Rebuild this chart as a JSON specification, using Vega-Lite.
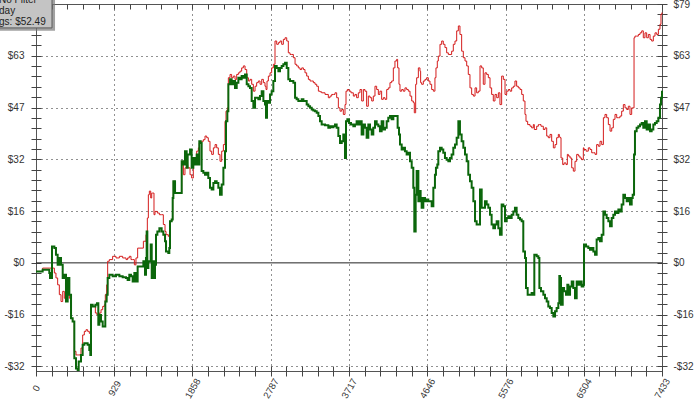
{
  "$schema": "https://vega.github.io/schema/vega-lite/v6.json",
  "width": 626,
  "height": 367,
  "autosize": {"type": "none"},
  "padding": {"left": 36, "top": 4, "right": 38, "bottom": 36},
  "background": "white",
  "config": {
    "view": {"stroke": "#555555", "strokeWidth": 1},
    "axis": {
      "domain": false,
      "title": null,
      "labelFont": "Liberation Sans",
      "labelFontSize": 10,
      "labelColor": "#333333",
      "tickColor": "#444444",
      "tickWidth": 1,
      "labelOverlap": false,
      "labelFlush": false,
      "labelBound": false
    }
  },
  "data": {"values": [
    {"t":0,"filter":-2.6,"noFilter":-2.6},{"t":79,"filter":-1.6,"noFilter":-2.1},{"t":158,"filter":-1.6,"noFilter":-3.1},{"t":166,"filter":-1.6,"noFilter":-4.6},{"t":190,"filter":-1.6,"noFilter":5.0},{"t":218,"filter":-3.1,"noFilter":4.5},{"t":237,"filter":-4.6,"noFilter":2.5},{"t":257,"filter":-6.7,"noFilter":-0.6},{"t":277,"filter":-9.7,"noFilter":1.5},{"t":297,"filter":-11.8,"noFilter":-0.6},{"t":317,"filter":-8.7,"noFilter":-4.6},{"t":336,"filter":-10.8,"noFilter":-3.6},{"t":356,"filter":-9.7,"noFilter":-11.8},{"t":376,"filter":-8.7,"noFilter":-4.6},{"t":396,"filter":-10.8,"noFilter":-9.7},{"t":416,"filter":-16.9,"noFilter":-16.9},{"t":435,"filter":-17.9,"noFilter":-17.9},{"t":455,"filter":-27.0,"noFilter":-29.1},{"t":475,"filter":-28.1,"noFilter":-32.2},{"t":495,"filter":-28.1,"noFilter":-32.7},{"t":507,"filter":-28.1,"noFilter":-30.1},{"t":534,"filter":-26.0,"noFilter":-28.1},{"t":554,"filter":-22.0,"noFilter":-25.0},{"t":574,"filter":-20.9,"noFilter":-24.5},{"t":594,"filter":-20.4,"noFilter":-24.5},{"t":613,"filter":-20.9,"noFilter":-25.0},{"t":633,"filter":-21.5,"noFilter":-26.6},{"t":645,"filter":-21.5,"noFilter":-28.1},{"t":653,"filter":-12.8,"noFilter":-12.8},{"t":673,"filter":-13.3,"noFilter":-13.3},{"t":705,"filter":-15.3,"noFilter":-12.8},{"t":724,"filter":-15.9,"noFilter":-12.3},{"t":740,"filter":-15.9,"noFilter":-18.9},{"t":752,"filter":-15.3,"noFilter":-15.9},{"t":772,"filter":-14.3,"noFilter":-17.9},{"t":792,"filter":-13.3,"noFilter":-19.4},{"t":811,"filter":-12.8,"noFilter":-19.4},{"t":823,"filter":-9.7,"noFilter":-11.8},{"t":839,"filter":-6.7,"noFilter":-9.7},{"t":851,"filter":0.5,"noFilter":-4.6},{"t":871,"filter":1.0,"noFilter":-3.6},{"t":910,"filter":2.0,"noFilter":-4.1},{"t":950,"filter":1.5,"noFilter":-3.6},{"t":990,"filter":2.0,"noFilter":-4.1},{"t":1029,"filter":1.5,"noFilter":-4.4},{"t":1069,"filter":1.0,"noFilter":-4.6},{"t":1088,"filter":1.5,"noFilter":-5.2},{"t":1108,"filter":2.0,"noFilter":-3.6},{"t":1128,"filter":1.0,"noFilter":-4.1},{"t":1148,"filter":1.0,"noFilter":-5.7},{"t":1168,"filter":-0.6,"noFilter":-3.1},{"t":1187,"filter":1.5,"noFilter":-5.7},{"t":1207,"filter":4.5,"noFilter":-1.1},
    {"t":1235,"filter":4.5,"noFilter":-1.1},{"t":1275,"filter":6.6,"noFilter":0.5},{"t":1294,"filter":6.6,"noFilter":-3.6},{"t":1306,"filter":8.6,"noFilter":1.5},{"t":1314,"filter":9.6,"noFilter":9.6},{"t":1322,"filter":13.7,"noFilter":-1.6},{"t":1334,"filter":20.8,"noFilter":0.5},{"t":1346,"filter":21.9,"noFilter":0.5},{"t":1362,"filter":19.8,"noFilter":5.6},{"t":1374,"filter":21.3,"noFilter":-4.6},{"t":1385,"filter":21.3,"noFilter":0.5},{"t":1401,"filter":14.7,"noFilter":-4.6},{"t":1413,"filter":15.7,"noFilter":-0.6},{"t":1425,"filter":15.7,"noFilter":8.6},{"t":1441,"filter":15.2,"noFilter":9.6},{"t":1465,"filter":14.7,"noFilter":10.6},{"t":1492,"filter":14.7,"noFilter":9.6},{"t":1512,"filter":11.7,"noFilter":8.6},{"t":1532,"filter":9.6,"noFilter":6.6},{"t":1544,"filter":8.6,"noFilter":3.5},{"t":1571,"filter":8.1,"noFilter":3.0},{"t":1583,"filter":8.6,"noFilter":4.5},{"t":1591,"filter":12.7,"noFilter":12.7},{"t":1611,"filter":13.2,"noFilter":13.2},{"t":1623,"filter":19.8,"noFilter":19.8},{"t":1631,"filter":24.9,"noFilter":24.9},{"t":1651,"filter":21.3,"noFilter":21.3},{"t":1690,"filter":21.3,"noFilter":21.3},{"t":1710,"filter":21.3,"noFilter":21.3},{"t":1730,"filter":31.0,"noFilter":31.0},{"t":1750,"filter":26.9,"noFilter":30.0},{"t":1769,"filter":29.0,"noFilter":34.1},{"t":1789,"filter":30.0,"noFilter":29.0},{"t":1801,"filter":29.0,"noFilter":33.1},{"t":1829,"filter":26.9,"noFilter":34.6},{"t":1848,"filter":25.9,"noFilter":29.0},{"t":1868,"filter":30.0,"noFilter":32.0},{"t":1888,"filter":32.0,"noFilter":30.0},{"t":1908,"filter":34.1,"noFilter":33.1},{"t":1928,"filter":35.1,"noFilter":30.0},{"t":1939,"filter":36.6,"noFilter":37.1},{"t":1955,"filter":37.1,"noFilter":36.6},{"t":1967,"filter":37.1,"noFilter":28.0},{"t":1987,"filter":37.6,"noFilter":27.5},{"t":2007,"filter":38.7,"noFilter":26.9},{"t":2027,"filter":38.2,"noFilter":27.5},{"t":2046,"filter":37.1,"noFilter":25.9},{"t":2066,"filter":34.1,"noFilter":22.9},{"t":2086,"filter":33.1,"noFilter":22.4},{"t":2106,"filter":35.1,"noFilter":24.4},{"t":2126,"filter":36.1,"noFilter":24.9},{"t":2145,"filter":35.1,"noFilter":24.4},{"t":2165,"filter":33.1,"noFilter":22.9},{"t":2185,"filter":31.0,"noFilter":20.8},{"t":2205,"filter":34.1,"noFilter":23.9},{"t":2225,"filter":36.1,"noFilter":29.0},{"t":2244,"filter":43.2,"noFilter":34.1},{"t":2256,"filter":46.3,"noFilter":43.2},{"t":2272,"filter":47.3,"noFilter":46.3},{"t":2284,"filter":56.5,"noFilter":54.5},{"t":2304,"filter":57.5,"noFilter":56.0},{"t":2323,"filter":56.5,"noFilter":54.5},{"t":2343,"filter":57.0,"noFilter":55.5},{"t":2363,"filter":56.0,"noFilter":53.4},{"t":2383,"filter":57.5,"noFilter":55.0},{"t":2403,"filter":58.0,"noFilter":56.5},{"t":2422,"filter":58.5,"noFilter":56.0},{"t":2442,"filter":59.5,"noFilter":57.0},{"t":2462,"filter":60.1,"noFilter":56.5},
    {"t":2482,"filter":59.0,"noFilter":57.5},{"t":2502,"filter":56.5,"noFilter":54.5},{"t":2522,"filter":55.5,"noFilter":53.9},{"t":2541,"filter":56.0,"noFilter":53.4},{"t":2561,"filter":54.5,"noFilter":49.4},{"t":2581,"filter":52.4,"noFilter":47.3},{"t":2601,"filter":53.9,"noFilter":50.4},{"t":2620,"filter":55.0,"noFilter":50.4},{"t":2640,"filter":55.5,"noFilter":49.9},{"t":2660,"filter":54.5,"noFilter":50.9},{"t":2680,"filter":56.0,"noFilter":52.4},{"t":2700,"filter":55.0,"noFilter":49.4},{"t":2719,"filter":53.9,"noFilter":48.3},{"t":2731,"filter":52.9,"noFilter":44.3},{"t":2743,"filter":55.5,"noFilter":49.4},{"t":2759,"filter":57.0,"noFilter":48.9},{"t":2779,"filter":58.0,"noFilter":51.4},{"t":2798,"filter":59.5,"noFilter":52.4},{"t":2818,"filter":60.6,"noFilter":55.5},{"t":2838,"filter":67.7,"noFilter":60.1},{"t":2858,"filter":66.7,"noFilter":59.5},{"t":2878,"filter":67.2,"noFilter":58.5},{"t":2897,"filter":67.7,"noFilter":59.5},{"t":2917,"filter":66.7,"noFilter":60.1},{"t":2937,"filter":68.2,"noFilter":60.6},{"t":2957,"filter":68.7,"noFilter":61.1},{"t":2977,"filter":67.7,"noFilter":59.5},{"t":2996,"filter":64.1,"noFilter":56.0},{"t":3016,"filter":63.6,"noFilter":55.5},{"t":3036,"filter":63.6,"noFilter":55.5},{"t":3056,"filter":62.6,"noFilter":55.0},{"t":3076,"filter":60.6,"noFilter":50.4},{"t":3095,"filter":60.1,"noFilter":49.9},{"t":3115,"filter":59.5,"noFilter":49.4},{"t":3135,"filter":59.0,"noFilter":49.4},{"t":3155,"filter":59.5,"noFilter":49.9},{"t":3175,"filter":59.0,"noFilter":49.4},{"t":3194,"filter":58.0,"noFilter":49.4},{"t":3214,"filter":57.0,"noFilter":48.3},{"t":3234,"filter":56.0,"noFilter":47.8},{"t":3254,"filter":55.5,"noFilter":47.3},{"t":3274,"filter":55.5,"noFilter":46.8},{"t":3293,"filter":55.0,"noFilter":46.5},{"t":3313,"filter":54.5,"noFilter":46.3},{"t":3333,"filter":53.9,"noFilter":45.8},{"t":3353,"filter":52.4,"noFilter":44.8},{"t":3372,"filter":52.2,"noFilter":43.2},{"t":3392,"filter":51.9,"noFilter":42.2},{"t":3432,"filter":51.4,"noFilter":42.0},{"t":3471,"filter":50.4,"noFilter":41.2},{"t":3491,"filter":50.9,"noFilter":41.7},{"t":3511,"filter":51.4,"noFilter":41.4},{"t":3531,"filter":51.4,"noFilter":41.7},{"t":3550,"filter":51.9,"noFilter":42.2},{"t":3570,"filter":50.4,"noFilter":41.2},{"t":3590,"filter":47.3,"noFilter":38.7},{"t":3610,"filter":46.3,"noFilter":36.6},{"t":3630,"filter":46.8,"noFilter":37.1},{"t":3649,"filter":45.3,"noFilter":39.2},{"t":3669,"filter":48.3,"noFilter":32.0},{"t":3681,"filter":52.4,"noFilter":43.2},{"t":3697,"filter":52.9,"noFilter":43.8},{"t":3717,"filter":52.4,"noFilter":42.7},
    {"t":3740,"filter":51.9,"noFilter":42.2},{"t":3768,"filter":50.9,"noFilter":41.7},{"t":3787,"filter":51.4,"noFilter":42.2},{"t":3807,"filter":50.4,"noFilter":43.2},{"t":3827,"filter":51.9,"noFilter":42.2},{"t":3847,"filter":52.9,"noFilter":43.2},{"t":3867,"filter":49.4,"noFilter":39.2},{"t":3887,"filter":52.9,"noFilter":42.2},{"t":3906,"filter":52.4,"noFilter":41.2},{"t":3926,"filter":47.8,"noFilter":38.2},{"t":3946,"filter":50.9,"noFilter":42.2},{"t":3966,"filter":50.4,"noFilter":40.7},{"t":3986,"filter":49.4,"noFilter":39.2},{"t":4005,"filter":50.9,"noFilter":41.2},{"t":4025,"filter":53.9,"noFilter":43.2},{"t":4045,"filter":52.9,"noFilter":42.2},{"t":4065,"filter":51.4,"noFilter":41.7},{"t":4084,"filter":52.4,"noFilter":40.2},{"t":4104,"filter":49.9,"noFilter":43.2},{"t":4124,"filter":50.4,"noFilter":40.7},{"t":4144,"filter":49.9,"noFilter":41.2},{"t":4164,"filter":52.9,"noFilter":43.2},{"t":4183,"filter":53.4,"noFilter":44.3},{"t":4203,"filter":55.0,"noFilter":44.8},{"t":4223,"filter":55.5,"noFilter":43.8},{"t":4243,"filter":59.5,"noFilter":44.8},{"t":4262,"filter":61.6,"noFilter":44.8},{"t":4282,"filter":62.1,"noFilter":44.8},{"t":4294,"filter":59.5,"noFilter":41.2},{"t":4310,"filter":54.5,"noFilter":39.2},{"t":4322,"filter":52.4,"noFilter":36.1},{"t":4342,"filter":52.9,"noFilter":34.6},{"t":4361,"filter":52.4,"noFilter":35.1},{"t":4381,"filter":53.4,"noFilter":34.1},{"t":4401,"filter":52.9,"noFilter":33.1},{"t":4421,"filter":52.4,"noFilter":33.6},{"t":4441,"filter":50.9,"noFilter":31.0},{"t":4461,"filter":49.4,"noFilter":29.0},{"t":4480,"filter":48.9,"noFilter":22.9},{"t":4492,"filter":45.8,"noFilter":9.6},{"t":4508,"filter":54.5,"noFilter":20.8},{"t":4520,"filter":56.5,"noFilter":28.0},{"t":4540,"filter":59.5,"noFilter":18.8},{"t":4559,"filter":58.5,"noFilter":21.9},{"t":4567,"filter":55.0,"noFilter":19.8},{"t":4579,"filter":54.5,"noFilter":16.8},{"t":4599,"filter":55.5,"noFilter":19.8},{"t":4619,"filter":56.0,"noFilter":18.8},{"t":4638,"filter":56.5,"noFilter":19.3},{"t":4658,"filter":55.5,"noFilter":18.8},{"t":4678,"filter":54.5,"noFilter":18.8},{"t":4698,"filter":52.9,"noFilter":17.3},{"t":4718,"filter":52.4,"noFilter":22.9},{"t":4737,"filter":56.5,"noFilter":26.9},{"t":4749,"filter":59.5,"noFilter":29.0},{"t":4765,"filter":61.6,"noFilter":30.0},{"t":4777,"filter":63.1,"noFilter":34.1},{"t":4797,"filter":66.7,"noFilter":35.1},{"t":4817,"filter":67.7,"noFilter":34.6},{"t":4836,"filter":66.7,"noFilter":33.6},{"t":4856,"filter":65.7,"noFilter":32.0},{"t":4876,"filter":64.1,"noFilter":31.5},{"t":4896,"filter":63.6,"noFilter":31.0},{"t":4916,"filter":63.6,"noFilter":32.0},{"t":4935,"filter":64.6,"noFilter":33.1},{"t":4955,"filter":66.7,"noFilter":35.1},{"t":4975,"filter":67.7,"noFilter":36.1},
    {"t":4995,"filter":70.8,"noFilter":38.2},{"t":5015,"filter":72.3,"noFilter":43.2},{"t":5034,"filter":69.7,"noFilter":39.2},{"t":5054,"filter":64.6,"noFilter":37.1},{"t":5074,"filter":62.6,"noFilter":35.1},{"t":5094,"filter":61.6,"noFilter":33.1},{"t":5114,"filter":60.1,"noFilter":31.0},{"t":5133,"filter":57.5,"noFilter":26.9},{"t":5153,"filter":53.4,"noFilter":24.9},{"t":5173,"filter":51.4,"noFilter":22.9},{"t":5193,"filter":50.9,"noFilter":18.8},{"t":5213,"filter":53.4,"noFilter":12.7},{"t":5232,"filter":51.9,"noFilter":11.7},{"t":5252,"filter":52.4,"noFilter":11.7},{"t":5272,"filter":60.1,"noFilter":22.4},{"t":5292,"filter":59.5,"noFilter":16.8},{"t":5311,"filter":54.5,"noFilter":16.8},{"t":5331,"filter":58.0,"noFilter":18.8},{"t":5351,"filter":57.5,"noFilter":17.8},{"t":5371,"filter":56.5,"noFilter":16.8},{"t":5391,"filter":53.4,"noFilter":14.7},{"t":5410,"filter":51.4,"noFilter":11.7},{"t":5430,"filter":49.4,"noFilter":10.6},{"t":5450,"filter":51.4,"noFilter":11.7},{"t":5470,"filter":50.4,"noFilter":12.7},{"t":5490,"filter":51.9,"noFilter":10.6},{"t":5509,"filter":48.3,"noFilter":8.6},{"t":5529,"filter":57.0,"noFilter":17.8},{"t":5549,"filter":56.0,"noFilter":17.3},{"t":5569,"filter":51.4,"noFilter":12.7},{"t":5589,"filter":52.4,"noFilter":13.7},{"t":5608,"filter":52.9,"noFilter":14.2},{"t":5628,"filter":52.4,"noFilter":13.7},{"t":5648,"filter":53.4,"noFilter":14.7},{"t":5668,"filter":53.9,"noFilter":15.7},{"t":5687,"filter":55.5,"noFilter":16.8},{"t":5707,"filter":53.9,"noFilter":14.7},{"t":5727,"filter":53.4,"noFilter":13.7},{"t":5747,"filter":52.9,"noFilter":13.2},{"t":5767,"filter":51.4,"noFilter":12.7},{"t":5786,"filter":49.4,"noFilter":3.5},{"t":5806,"filter":45.3,"noFilter":1.5},{"t":5818,"filter":43.2,"noFilter":-7.7},{"t":5838,"filter":42.2,"noFilter":-9.7},{"t":5866,"filter":41.7,"noFilter":-9.7},{"t":5885,"filter":41.2,"noFilter":-9.2},{"t":5905,"filter":42.2,"noFilter":-9.7},{"t":5917,"filter":40.7,"noFilter":2.5},{"t":5945,"filter":41.7,"noFilter":2.0},{"t":5965,"filter":42.2,"noFilter":1.5},{"t":5977,"filter":42.2,"noFilter":-7.7},{"t":5996,"filter":41.7,"noFilter":-8.7},{"t":6024,"filter":40.7,"noFilter":-9.7},{"t":6044,"filter":41.2,"noFilter":-10.8},{"t":6064,"filter":38.7,"noFilter":-11.8},{"t":6083,"filter":38.2,"noFilter":-13.3},{"t":6103,"filter":39.2,"noFilter":-13.8},{"t":6123,"filter":37.1,"noFilter":-15.3},{"t":6143,"filter":35.1,"noFilter":-16.4},{"t":6163,"filter":36.1,"noFilter":-14.8},{"t":6182,"filter":38.2,"noFilter":-13.8},{"t":6202,"filter":39.2,"noFilter":-12.3},{"t":6214,"filter":38.5,"noFilter":-4.0},
    {"t":6222,"filter":38.2,"noFilter":-4.6},{"t":6234,"filter":32.0,"noFilter":-12.8},{"t":6254,"filter":30.0,"noFilter":-7.7},{"t":6270,"filter":30.5,"noFilter":-8.7},{"t":6293,"filter":30.0,"noFilter":-9.7},{"t":6309,"filter":33.1,"noFilter":-6.7},{"t":6321,"filter":32.6,"noFilter":-9.7},{"t":6341,"filter":32.0,"noFilter":-7.2},{"t":6361,"filter":29.0,"noFilter":-5.7},{"t":6380,"filter":28.0,"noFilter":-7.7},{"t":6400,"filter":31.0,"noFilter":-10.8},{"t":6420,"filter":33.1,"noFilter":-5.7},{"t":6440,"filter":32.6,"noFilter":-6.7},{"t":6459,"filter":32.0,"noFilter":-5.7},{"t":6479,"filter":31.5,"noFilter":-7.2},{"t":6499,"filter":35.1,"noFilter":-6.7},{"t":6507,"filter":34.6,"noFilter":5.6},{"t":6531,"filter":34.1,"noFilter":5.0},{"t":6558,"filter":35.1,"noFilter":4.5},{"t":6578,"filter":34.6,"noFilter":4.0},{"t":6598,"filter":33.6,"noFilter":4.5},{"t":6618,"filter":33.6,"noFilter":3.5},{"t":6638,"filter":33.1,"noFilter":2.5},{"t":6657,"filter":36.1,"noFilter":7.1},{"t":6677,"filter":35.6,"noFilter":7.6},{"t":6697,"filter":37.1,"noFilter":6.6},{"t":6717,"filter":36.1,"noFilter":8.6},{"t":6737,"filter":44.3,"noFilter":15.7},{"t":6756,"filter":45.3,"noFilter":14.7},{"t":6776,"filter":44.3,"noFilter":13.7},{"t":6796,"filter":42.2,"noFilter":12.7},{"t":6816,"filter":40.2,"noFilter":11.2},{"t":6836,"filter":41.2,"noFilter":13.7},{"t":6855,"filter":43.8,"noFilter":14.7},{"t":6875,"filter":45.3,"noFilter":15.7},{"t":6895,"filter":44.3,"noFilter":15.2},{"t":6915,"filter":44.3,"noFilter":16.3},{"t":6934,"filter":44.8,"noFilter":15.7},{"t":6954,"filter":46.3,"noFilter":17.8},{"t":6974,"filter":48.3,"noFilter":20.8},{"t":6994,"filter":47.3,"noFilter":19.8},{"t":7014,"filter":46.8,"noFilter":18.8},{"t":7033,"filter":47.8,"noFilter":19.8},{"t":7053,"filter":45.3,"noFilter":17.8},{"t":7073,"filter":47.3,"noFilter":19.8},{"t":7085,"filter":47.3,"noFilter":20.8},{"t":7101,"filter":68.7,"noFilter":33.1},{"t":7112,"filter":69.2,"noFilter":40.2},{"t":7132,"filter":69.2,"noFilter":41.2},{"t":7152,"filter":69.7,"noFilter":41.7},{"t":7172,"filter":70.2,"noFilter":42.2},{"t":7192,"filter":70.8,"noFilter":42.7},{"t":7211,"filter":68.7,"noFilter":41.2},{"t":7231,"filter":70.2,"noFilter":43.2},{"t":7251,"filter":68.7,"noFilter":40.7},{"t":7271,"filter":69.7,"noFilter":42.2},{"t":7291,"filter":68.2,"noFilter":40.2},{"t":7310,"filter":67.7,"noFilter":40.7},{"t":7330,"filter":69.2,"noFilter":42.2},{"t":7350,"filter":70.2,"noFilter":42.7},{"t":7370,"filter":69.7,"noFilter":43.2},{"t":7390,"filter":71.3,"noFilter":44.3},{"t":7409,"filter":72.8,"noFilter":48.3},{"t":7421,"filter":75.9,"noFilter":50.4},{"t":7433,"filter":76.4,"noFilter":52.49}
  ]},
  "layer": [
    {
      "data": {"values": [{"level": 0}]},
      "mark": {"type": "rule", "color": "#222222", "strokeWidth": 1},
      "encoding": {
        "y": {"field": "level", "type": "quantitative", "scale": {"domain": [-33, 79], "nice": false, "zero": false}, "axis": null}
      }
    },
    {
      "mark": {"type": "line", "color": "#d41c1c", "strokeWidth": 1, "interpolate": "step-after"},
      "encoding": {
        "x": {"field": "t", "type": "quantitative", "scale": {"domain": [0, 7433], "nice": false, "zero": false},
          "axis": {"orient": "top", "values": [0,185.8,371.7,557.5,743.3,929,1115,1300.8,1486.6,1672.4,1858,2044.1,2229.9,2415.7,2601.6,2787,2973.2,3159,3344.9,3530.7,3717,3902.3,4088.2,4274,4459.8,4646,4831.5,5017.3,5203.1,5388.9,5576,5760.6,5946.4,6132.2,6318.1,6504,6689.7,6875.5,7061.4,7247.2,7433],
            "labels": false, "grid": false, "offset": -5, "tickSize": 5}},
        "y": {"field": "filter", "type": "quantitative", "scale": {"domain": [-33, 79], "nice": false, "zero": false},
          "axis": {"orient": "right", "values": [-31.6,-28.44,-25.28,-22.12,-18.96,-15.8,-12.64,-9.48,-6.32,-3.16,0,3.16,6.32,9.48,12.64,15.8,18.96,22.12,25.28,28.44,31.6,34.76,37.92,41.08,44.24,47.4,50.56,53.72,56.88,60.04,63.2,66.36,69.52,72.68,75.84,79],
            "labelExpr": "indexof([-31.6,-15.8,0,15.8,31.6,47.4,63.2,79], datum.value) < 0 ? '' : (datum.value < 0 ? '-$' + format(-datum.value, '.0f') : '$' + format(datum.value, '.0f'))",
            "grid": false, "offset": -5, "tickSize": 10, "labelPadding": 6}}
      }
    },
    {
      "mark": {"type": "line", "color": "#0b660b", "strokeWidth": 2, "interpolate": "step-after"},
      "encoding": {
        "x": {"field": "t", "type": "quantitative", "scale": {"domain": [0, 7433], "nice": false, "zero": false},
          "axis": {"orient": "bottom", "values": [0,185.8,371.7,557.5,743.3,929,1115,1300.8,1486.6,1672.4,1858,2044.1,2229.9,2415.7,2601.6,2787,2973.2,3159,3344.9,3530.7,3717,3902.3,4088.2,4274,4459.8,4646,4831.5,5017.3,5203.1,5388.9,5576,5760.6,5946.4,6132.2,6318.1,6504,6689.7,6875.5,7061.4,7247.2,7433],
            "labelExpr": "indexof([0,929,1858,2787,3717,4646,5576,6504,7433], datum.value) >= 0 ? format(datum.value, 'd') : ''",
            "grid": true, "gridDash": [1, 4], "gridColor": "#222222",
            "gridOpacity": {"condition": {"test": "indexof([929,1858,2787,3717,4646,5576,6504], datum.value) >= 0", "value": 1}, "value": 0},
            "offset": -5, "tickSize": 10, "labelAngle": -60, "labelAlign": "center", "labelBaseline": "middle", "labelPadding": 12, "labelFontSize": 9.5}},
        "y": {"field": "noFilter", "type": "quantitative", "scale": {"domain": [-33, 79], "nice": false, "zero": false},
          "axis": {"orient": "left", "values": [-31.6,-28.44,-25.28,-22.12,-18.96,-15.8,-12.64,-9.48,-6.32,-3.16,0,3.16,6.32,9.48,12.64,15.8,18.96,22.12,25.28,28.44,31.6,34.76,37.92,41.08,44.24,47.4,50.56,53.72,56.88,60.04,63.2,66.36,69.52,72.68,75.84,79],
            "labelExpr": "indexof([-31.6,-15.8,0,15.8,31.6,47.4,63.2,79], datum.value) < 0 ? '' : (datum.value < 0 ? '-$' + format(-datum.value, '.0f') : '$' + format(datum.value, '.0f'))",
            "grid": true, "gridDash": [1, 4], "gridColor": "#222222",
            "gridOpacity": {"condition": {"test": "indexof([-31.6,-15.8,15.8,31.6,47.4,63.2], datum.value) >= 0", "value": 1}, "value": 0},
            "offset": -5, "tickSize": 10, "labelPadding": 7}}
      }
    },
    {
      "data": {"values": [{"box": "legend"}]},
      "mark": {"type": "rect", "fill": "#7a7a7a", "opacity": 0.7},
      "encoding": {
        "x": {"datum": -600, "type": "quantitative", "scale": {"domain": [0, 7433], "nice": false, "zero": false}, "axis": null},
        "x2": {"datum": 226},
        "y": {"datum": 83, "type": "quantitative", "scale": {"domain": [-33, 79], "nice": false, "zero": false}, "axis": null},
        "y2": {"datum": 70.8}
      }
    },
    {
      "data": {"values": [{"box": "legend"}]},
      "mark": {"type": "rect", "fill": "#c4c4c4", "stroke": "#5a5a5a", "strokeWidth": 1},
      "encoding": {
        "x": {"datum": -600, "type": "quantitative", "scale": {"domain": [0, 7433], "nice": false, "zero": false}, "axis": null},
        "x2": {"datum": 190},
        "y": {"datum": 83, "type": "quantitative", "scale": {"domain": [-33, 79], "nice": false, "zero": false}, "axis": null},
        "y2": {"datum": 71.7}
      }
    },
    {
      "data": {"values": [{"box": "legend"}]},
      "mark": {"type": "text", "align": "left", "baseline": "top", "font": "Liberation Sans", "fontSize": 10, "lineHeight": 11, "color": "#222222",
        "text": ["No Filter", "day", "gs: $52.49"]},
      "encoding": {
        "x": {"datum": -439, "type": "quantitative", "scale": {"domain": [0, 7433], "nice": false, "zero": false}, "axis": null},
        "y": {"datum": 81.6, "type": "quantitative", "scale": {"domain": [-33, 79], "nice": false, "zero": false}, "axis": null}
      }
    }
  ],
  "resolve": {"axis": {"x": "independent", "y": "independent"}}
}
